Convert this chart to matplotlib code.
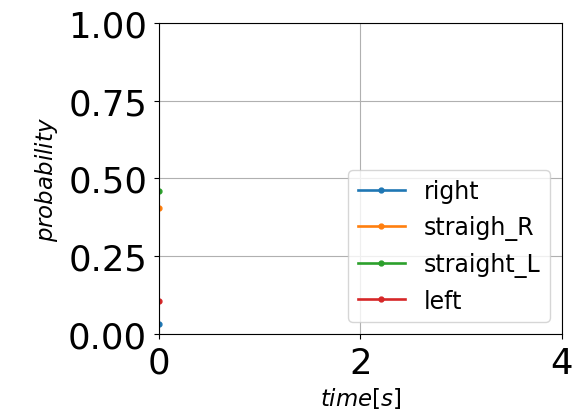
import matplotlib
matplotlib.use('Agg')
import matplotlib.pyplot as plt

# Datos: probabilidad por maniobra en t=0
time = [0.0]
labels = ['right', 'straigh_R', 'straight_L', 'left']
p_right = [0.031]
p_straigh_R = [0.405]
p_straight_L = [0.459]
p_left = [0.105]

series = [p_right, p_straigh_R, p_straight_L, p_left]

fig = plt.figure(figsize=(5.79, 4.14), dpi=100)
ax = fig.add_axes([0.2746, 0.191, 0.696, 0.751])

for vals, lab in zip(series, labels):
    ax.plot(time, vals, marker='.', label=lab, lw=1.9, markersize=7)

ax.set_xlim(0, 4)
ax.set_ylim(0, 1)
ax.set_xticks([0, 2, 4])
ax.set_yticks([0, 0.25, 0.5, 0.75, 1.0])
ax.set_yticklabels(['0.00', '0.25', '0.50', '0.75', '1.00'])
ax.tick_params(labelsize=25.5, pad=5)
ax.grid(True)
ax.set_xlabel('$time[s]$', fontsize=16.5)
ax.set_ylabel('$probability$', fontsize=16.5, labelpad=6)
ax.legend(loc='lower right', fontsize=17)

fig.savefig('out.png', dpi=100)
